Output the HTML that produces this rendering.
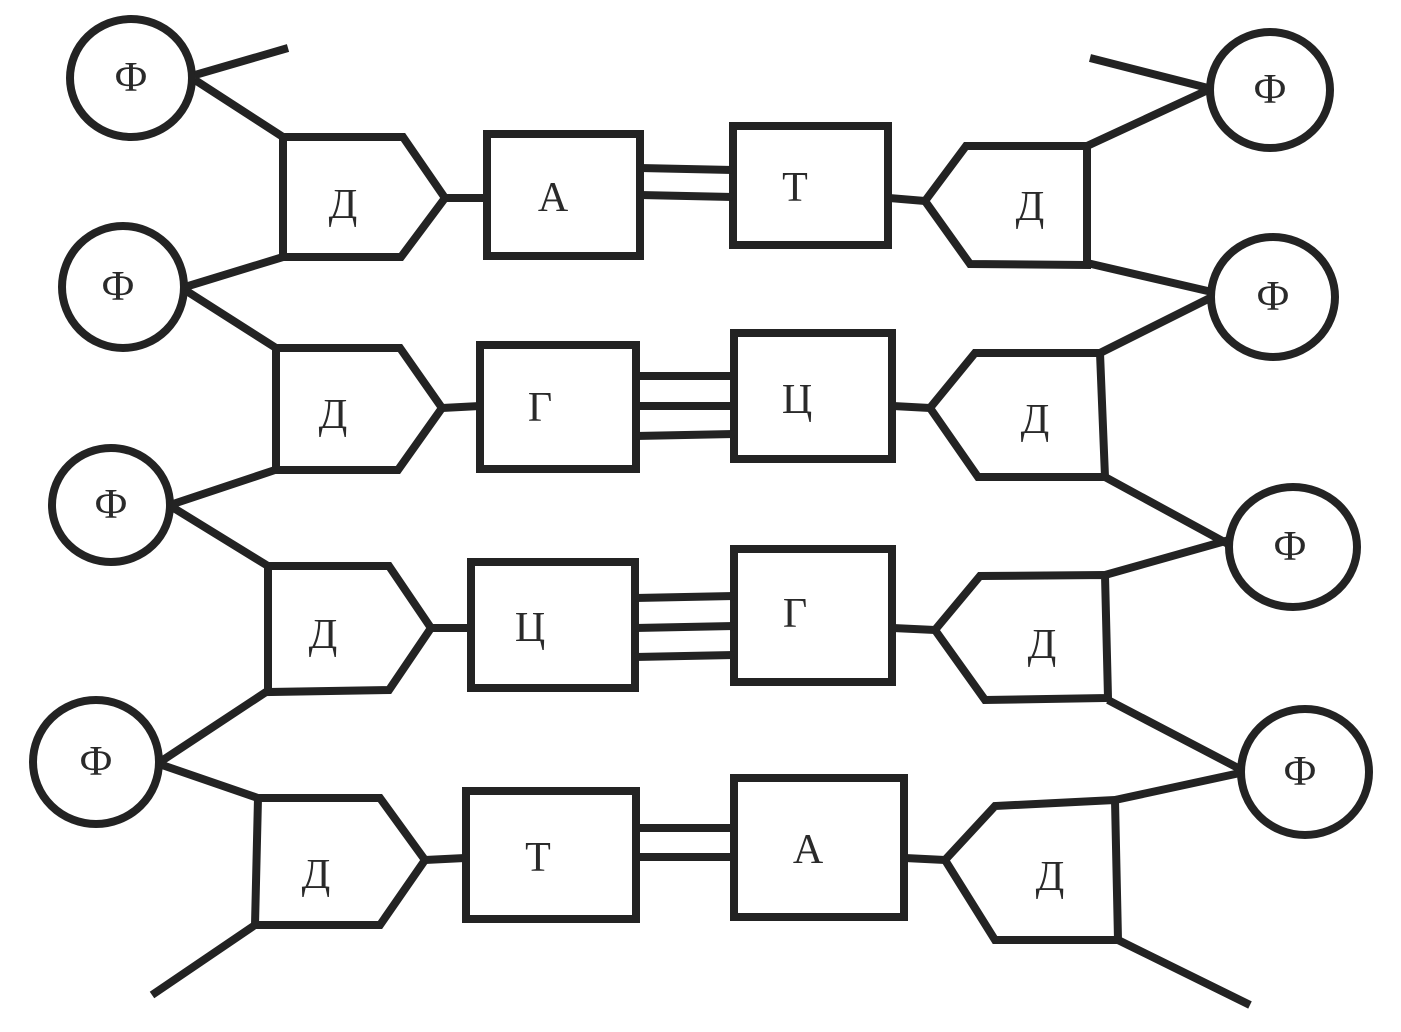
<!DOCTYPE html>
<html><head><meta charset="utf-8"><style>
html,body{margin:0;padding:0;background:#fff;}
svg{display:block;}
text{font-family:"Liberation Serif",serif;font-size:42px;fill:#2a2a2a;text-anchor:middle;dominant-baseline:central;}
</style></head><body>
<svg width="1401" height="1032" viewBox="0 0 1401 1032" xmlns="http://www.w3.org/2000/svg">
<g fill="none" stroke="#232323" stroke-width="8" stroke-linejoin="miter">
<ellipse cx="131" cy="78" rx="61" ry="59"/>
<ellipse cx="123" cy="287" rx="61" ry="61"/>
<ellipse cx="111" cy="505" rx="59" ry="57"/>
<ellipse cx="96" cy="762" rx="63" ry="62"/>
<ellipse cx="1270" cy="90" rx="60" ry="58"/>
<ellipse cx="1273" cy="297" rx="62" ry="60"/>
<ellipse cx="1293" cy="547" rx="64" ry="60"/>
<ellipse cx="1305" cy="772" rx="64" ry="63"/>
<path d="M195 75 L288 48 M195 80 L283 137 M185 287 L283 257 M185 290 L276 348 M170 505 L275 470 M172 507 L268 566 M160 762 L266 692 M162 765 L258 798 M255 925 L152 995"/>
<path d="M1208 88 L1090 58 M1208 90 L1087 146 M1087 263 L1212 292 M1100 353 L1212 297 M1105 477 L1228 544 M1105 575 L1229 540 M1108 700 L1238 768 M1115 800 L1240 773 M1118 940 L1250 1005"/>
<path d="M283 137 L403 137 L445 198 L401 257 L283 257 Z"/>
<path d="M276 348 L400 348 L442 408 L398 470 L276 470 Z"/>
<path d="M268 566 L389 566 L431 628 L389 690 L268 692 Z"/>
<path d="M258 798 L380 798 L425 860 L380 925 L255 925 Z"/>
<path d="M1087 146 L966 146 L925 201 L970 264 L1087 265 Z"/>
<path d="M1100 353 L975 353 L930 408 L978 477 L1105 477 Z"/>
<path d="M1105 575 L980 576 L935 630 L985 700 L1108 698 Z"/>
<path d="M1115 800 L995 806 L945 860 L995 940 L1118 940 Z"/>
<path d="M445 198 L487 198 M889 198 L925 201 M442 408 L480 406 M893 406 L930 408 M431 628 L470 628 M893 628 L935 630 M425 860 L465 858 M905 858 L945 860"/>
<rect x="487" y="134" width="153" height="122"/>
<rect x="733" y="126" width="155" height="119"/>
<rect x="480" y="345" width="156" height="124"/>
<rect x="734" y="333" width="158" height="126"/>
<rect x="471" y="562" width="164" height="126"/>
<rect x="734" y="549" width="158" height="133"/>
<rect x="466" y="791" width="170" height="128"/>
<rect x="734" y="778" width="170" height="139"/>
<path d="M640 168 L733 170 M640 195 L733 197"/>
<path d="M636 376 L734 376 M636 406 L734 406 M636 436 L734 434"/>
<path d="M635 598 L734 596 M635 628 L734 626 M635 657 L734 655"/>
<path d="M636 828 L734 828 M636 857 L734 857"/>
</g>
<text x="131" y="78">Ф</text>
<text x="118" y="287">Ф</text>
<text x="111" y="505">Ф</text>
<text x="96" y="762">Ф</text>
<text x="1270" y="90">Ф</text>
<text x="1273" y="297">Ф</text>
<text x="1290" y="547">Ф</text>
<text x="1300" y="772">Ф</text>
<text x="343" y="205">Д</text>
<text x="333" y="415">Д</text>
<text x="323" y="635">Д</text>
<text x="316" y="875">Д</text>
<text x="1030" y="207">Д</text>
<text x="1035" y="420">Д</text>
<text x="1042" y="645">Д</text>
<text x="1050" y="877">Д</text>
<text x="553" y="198">А</text>
<text x="795" y="188">Т</text>
<text x="540" y="408">Г</text>
<text x="797" y="400">Ц</text>
<text x="530" y="628">Ц</text>
<text x="795" y="614">Г</text>
<text x="538" y="858">Т</text>
<text x="808" y="850">А</text>
</svg>
</body></html>
